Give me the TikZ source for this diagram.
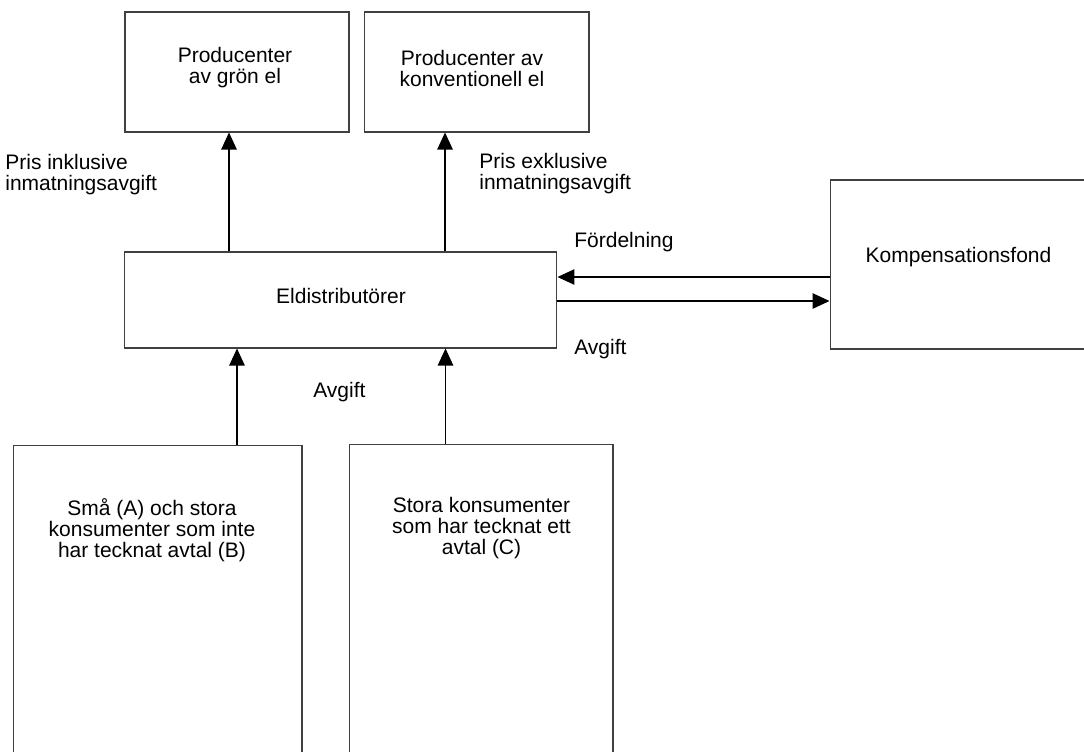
\documentclass[tikz,border=0pt]{standalone}
\usepackage{fontspec}
\setmainfont{Liberation Sans}
\usetikzlibrary{arrows.meta}

\begin{document}
\begin{tikzpicture}[x=0.02cm,y=-0.02cm,
    ruta/.style={draw=black!75, line width=0.6pt, inner sep=0pt},
    txt/.style={align=center, inner sep=0pt, font=\fontsize{11.95}{11.95}\selectfont},
    etikett/.style={align=left, inner sep=0pt, font=\fontsize{11.95}{11.95}\selectfont},
    pil/.style={-{Triangle[length=0.34cm,width=0.31cm]}, line width=0.6pt}]
                \useasboundingbox (0,0) rectangle (1084,751);
                % rutor
                \node[ruta, minimum width=4.48cm, minimum height=2.4cm] (gron) at (237,72) {};
                \node[txt] (grontxt) at (235,68) {Producenter\\av grön el};
                \node[ruta, minimum width=4.5cm, minimum height=2.4cm] (konv) at (476.5,72) {};
                \node[txt] (konvtxt) at (472,68) {Producenter av\\konventionell el};
                \node[ruta, minimum width=8.66cm, minimum height=1.92cm] (eldist) at (340.5,300) {};
                \node[txt] (eldisttxt) at (341,295.5) {Eldistributörer};
                \node[ruta, minimum width=5.2cm, minimum height=3.38cm] (komp) at (960,264.5) {};
                \node[txt] (komptxt) at (958.5,257) {Kompensationsfond};
                \node[ruta, minimum width=5.78cm, minimum height=7.1cm] (sma) at (157.5,622.5) {};
                \node[txt] (smatxt) at (152,530) {Små (A) och stora\\konsumenter som inte\\har tecknat avtal (B)};
                \node[ruta, minimum width=5.28cm, minimum height=7.12cm] (stora) at (481,622) {};
                \node[txt] (storatxt) at (481.5,528) {Stora konsumenter\\som har tecknat ett\\avtal (C)};
                % etiketter
                \node[etikett, anchor=north west] (prisin) at (5,154) {Pris inklusive\\inmatningsavgift};
                \node[etikett, anchor=north west] (prisex) at (479,153) {Pris exklusive\\inmatningsavgift};
                \node[etikett, anchor=base west] (fordel) at (574,247) {Fördelning};
                \node[etikett, anchor=base west] (avgifthoger) at (574,354) {Avgift};
                \node[etikett, anchor=base west] (avgiftmitt) at (313,397) {Avgift};
                % pilar
                \draw[pil] ([xshift=-0.16cm]gron.south |- eldist.north) -- ([xshift=-0.16cm]gron.south);
                \draw[pil] ([xshift=-0.63cm]konv.south |- eldist.north) -- ([xshift=-0.63cm]konv.south);
                \draw[pil] ([xshift=1.59cm]sma.north) -- ([xshift=1.59cm]sma.north |- eldist.south);
                \draw[pil] ([xshift=-0.71cm]stora.north) -- ([xshift=-0.71cm]stora.north |- eldist.south);
                \draw[pil] ([yshift=-0.25cm]komp.west) -- ([yshift=-0.25cm]komp.west -| eldist.east);
                \draw[pil] ([yshift=-0.73cm]komp.west -| eldist.east) -- ([yshift=-0.73cm]komp.west);
            \end{tikzpicture}
\end{document}
